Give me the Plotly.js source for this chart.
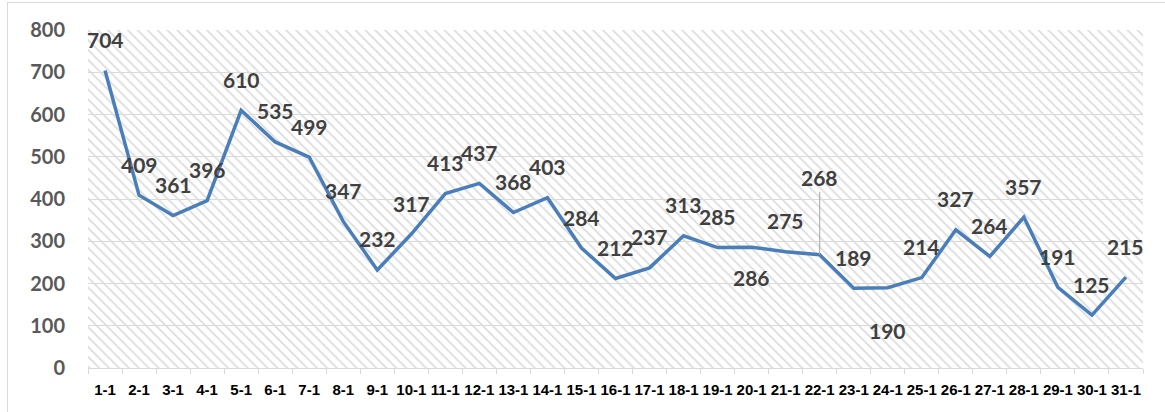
<!DOCTYPE html>
<html>
<head>
<meta charset="utf-8">
<script src="https://cdn.plot.ly/plotly-3.0.1.min.js"></script>
<style>
  html, body { margin: 0; padding: 0; background: #ffffff; overflow: hidden; }
  #frame { position: absolute; left: 7px; top: 2px; width: 1300px; height: 600px;
           border: 1px solid #d9d9d9; box-sizing: border-box; z-index: 0; }
  #chart { position: absolute; left: 0; top: 0; width: 1165px; height: 412px; z-index: 1; }
</style>
</head>
<body>
<div id="frame"></div>
<div id="chart"></div>
<script>
// ---- data ----
const categories = ["1-1","2-1","3-1","4-1","5-1","6-1","7-1","8-1","9-1","10-1",
  "11-1","12-1","13-1","14-1","15-1","16-1","17-1","18-1","19-1","20-1",
  "21-1","22-1","23-1","24-1","25-1","26-1","27-1","28-1","29-1","30-1","31-1"];
const values = [704,409,361,396,610,535,499,347,232,317,
  413,437,368,403,284,212,237,313,285,286,
  275,268,189,190,214,327,264,357,191,125,215];
// label placement: "above" / "below" / "leader"
const labelPlacement = ["above","above","above","above","above","above","above","above","above","above",
  "above","above","above","above","above","above","above","above","above","below",
  "above","leader","above","below","above","above","above","above","above","above","above"];
const yTicks = [0,100,200,300,400,500,600,700,800];

const idx = categories.map((c, i) => i);
const yMax = yTicks[yTicks.length - 1];

// ---- traces ----
const background = {
  x: [-0.5, categories.length - 0.5],
  y: [yMax, yMax],
  mode: "lines",
  line: { width: 0, color: "rgba(0,0,0,0)" },
  fill: "tozeroy",
  fillcolor: "rgba(0,0,0,0)",
  fillpattern: { shape: "\\", fgcolor: "#dcdcdc", bgcolor: "rgba(0,0,0,0)", size: 7, solidity: 0.25 },
  hoverinfo: "skip",
  showlegend: false
};

const series = {
  x: idx,
  y: values,
  mode: "lines",
  line: { color: "#4a7ebb", width: 3.5 },
  showlegend: false,
  hoverinfo: "x+y"
};

const labelFont = { family: "Lato, 'Open Sans', sans-serif", size: 21, color: "#404040", weight: 700 };
const annotations = values.map((v, i) => {
  const p = labelPlacement[i];
  if (p === "leader") {
    return { x: i, y: v, xref: "x", yref: "y", text: String(v), font: labelFont,
      showarrow: true, arrowhead: 0, arrowwidth: 1, arrowcolor: "#a6a6a6",
      ax: 0, ay: -77, standoff: 0 };
  }
  return { x: i, y: v, xref: "x", yref: "y", text: String(v), font: labelFont,
    showarrow: false, xanchor: "center", yanchor: "middle",
    yshift: p === "above" ? 31 : -30 };
});
// the 24-1 label sits further below the line
annotations[23].yshift = -43;

const layout = {
  width: 1165, height: 412,
  margin: { l: 88, r: 22, t: 30, b: 44 },
  paper_bgcolor: "rgba(0,0,0,0)",
  plot_bgcolor: "rgba(0,0,0,0)",
  showlegend: false,
  xaxis: {
    type: "linear",
    range: [-0.5, categories.length - 0.5],
    tickmode: "array",
    tickvals: idx,
    ticktext: categories,
    ticks: "",
    ticklabelstandoff: 8,
    tickfont: { family: "'Liberation Sans', Arial, sans-serif", size: 15, color: "#000000", weight: 700 },
    showgrid: false,
    zeroline: false,
    showline: true,
    linecolor: "#d9d9d9",
    linewidth: 1,
    minor: { tickmode: "linear", tick0: -0.5, dtick: 1, ticks: "outside", ticklen: 5,
             tickcolor: "#d9d9d9", tickwidth: 1, showgrid: false },
    fixedrange: true
  },
  yaxis: {
    range: [0, yMax],
    tickmode: "array",
    tickvals: yTicks,
    ticktext: yTicks.map(String),
    ticks: "",
    ticklabelstandoff: 22,
    tickfont: { family: "Lato, 'Open Sans', sans-serif", size: 20, color: "#595959", weight: 700 },
    showgrid: true,
    gridcolor: "#d9d9d9",
    gridwidth: 1,
    zeroline: false,
    showline: false,
    fixedrange: true
  },
  annotations: annotations
};

Plotly.newPlot("chart", [background, series], layout, { displayModeBar: false, staticPlot: true });
</script>
</body>
</html>
